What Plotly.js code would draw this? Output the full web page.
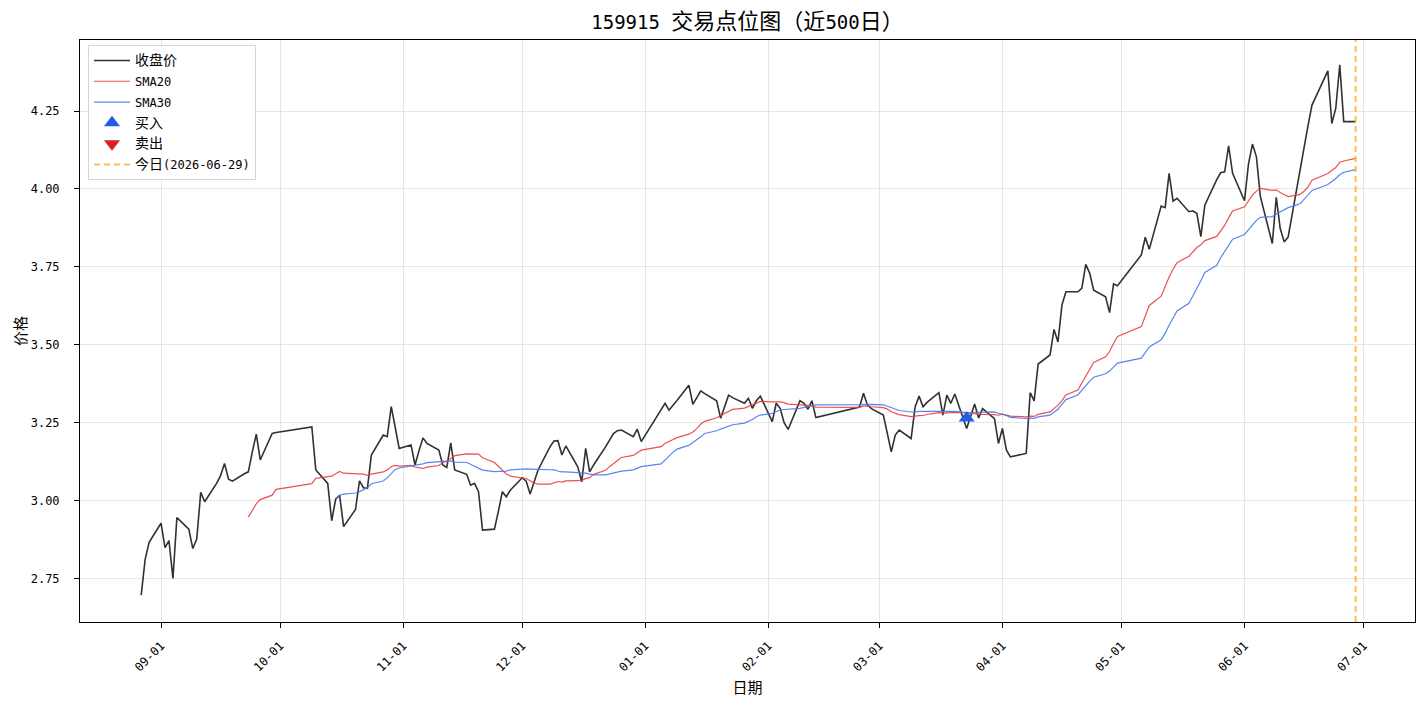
<!DOCTYPE html>
<html>
<head>
<meta charset="utf-8">
<script src="https://cdn.plot.ly/plotly-3.0.1.min.js"></script>
<style>
  html, body { margin: 0; padding: 0; background: #fff; }
  #chart { width: 1427px; height: 706px; }
</style>
</head>
<body>
<div id="chart"></div>
<script>
// 159915 daily closes, one array per month (A-share trading days)
const closeAug = [2.696, 2.811, 2.866];
const closeSep = [2.927, 2.849, 2.871, 2.750, 2.945, 2.908, 2.846, 2.876, 3.026, 2.996, 3.055,
                  3.080, 3.119, 3.068, 3.062, 3.086, 3.092, 3.156, 3.213, 3.130, 3.215, 3.218];
const closeOct = [3.236, 3.098, 3.055, 2.935, 3.004, 3.017, 2.916, 2.971, 3.063, 3.041, 3.039,
                  3.146, 3.210, 3.205, 3.301, 3.235, 3.167];
const closeNov = [3.178, 3.114, 3.160, 3.201, 3.183, 3.162, 3.114, 3.106, 3.185, 3.098, 3.084,
                  3.049, 3.055, 3.028, 2.905, 2.908, 2.965, 3.028, 3.012, 3.033];
const closeDec = [3.073, 3.062, 3.021, 3.060, 3.098, 3.172, 3.191, 3.192, 3.146, 3.175, 3.108,
                  3.060, 3.167, 3.092, 3.114, 3.172, 3.195, 3.215, 3.224, 3.226, 3.205, 3.229, 3.189];
const closeJan = [3.290, 3.312, 3.290, 3.304, 3.321, 3.370, 3.309, 3.330, 3.352, 3.343, 3.320,
                  3.264, 3.300, 3.338, 3.330, 3.312, 3.328, 3.296, 3.320, 3.335];
const closeFeb = [3.253, 3.312, 3.296, 3.250, 3.228, 3.320, 3.312, 3.293, 3.320, 3.266, 3.300,
                  3.344, 3.306, 3.295];
const closeMar = [3.274, 3.220, 3.156, 3.210, 3.226, 3.199, 3.300, 3.335, 3.301, 3.315, 3.346,
                  3.274, 3.338, 3.312, 3.342, 3.231, 3.270, 3.310, 3.265, 3.295, 3.263, 3.183];
const closeApr = [3.231, 3.162, 3.140, 3.151, 3.346, 3.320, 3.438, 3.467, 3.549, 3.509, 3.627,
                  3.670, 3.670, 3.681, 3.758, 3.729, 3.675, 3.654, 3.603, 3.695, 3.689];
const closeMay = [3.788, 3.845, 3.806, 3.945, 3.940, 4.050, 3.961, 3.970, 3.927, 3.930, 3.921,
                  3.847, 3.948, 4.030, 4.052, 4.055, 4.138, 4.050];
const closeJun = [3.962, 4.080, 4.144, 4.103, 3.975, 3.825, 3.973, 3.873, 3.830, 3.846, 4.065,
                  4.134, 4.203, 4.269, 4.379, 4.210, 4.259, 4.398, 4.216, 4.216];

// Exchange closures inside the window
const holidays = [
  '2025-10-01', '2025-10-02', '2025-10-03', '2025-10-06', '2025-10-07', '2025-10-08',
  '2026-01-01', '2026-01-02',
  '2026-02-16', '2026-02-17', '2026-02-18', '2026-02-19', '2026-02-20', '2026-02-23',
  '2026-04-06',
  '2026-05-01', '2026-05-04', '2026-05-05',
  '2026-06-19'
];
const firstDay = '2025-08-27';
const lastDay = '2026-06-29';

// Trade signals
const buyDates = ['2026-03-23'];
const buyPrices = [3.265];
const sellDates = [];
const sellPrices = [];

const today = '2026-06-29';

// Month ticks on the date axis
const tickDates = ['2025-09-01', '2025-10-01', '2025-11-01', '2025-12-01', '2026-01-01', '2026-02-01',
                   '2026-03-01', '2026-04-01', '2026-05-01', '2026-06-01', '2026-07-01'];
const tickLabels = ['09-01', '10-01', '11-01', '12-01', '01-01', '02-01',
                    '03-01', '04-01', '05-01', '06-01', '07-01'];
const priceTicks = [2.75, 3.00, 3.25, 3.50, 3.75, 4.00, 4.25];

// ---- build the trading calendar ----
function iso(d) {
  const m = String(d.getUTCMonth() + 1).padStart(2, '0');
  const day = String(d.getUTCDate()).padStart(2, '0');
  return d.getUTCFullYear() + '-' + m + '-' + day;
}
const closed = new Set(holidays);
const dates = [];
for (let d = new Date(firstDay + 'T00:00:00Z'); iso(d) <= lastDay; d.setUTCDate(d.getUTCDate() + 1)) {
  const wd = d.getUTCDay();
  if (wd !== 0 && wd !== 6 && !closed.has(iso(d))) dates.push(iso(d));
}
const close = [].concat(closeAug, closeSep, closeOct, closeNov, closeDec, closeJan,
                        closeFeb, closeMar, closeApr, closeMay, closeJun);

function sma(values, n) {
  return values.map((_, i) => {
    if (i < n - 1) return null;
    let s = 0;
    for (let k = i - n + 1; k <= i; k++) s += values[k];
    return s / n;
  });
}
const sma20 = sma(close, 20);
const sma30 = sma(close, 30);

// Latin text is set in a monospaced face; Chinese runs get a larger size so the
// full-width glyphs are twice the width of the half-width ones.
const MONO = '"DejaVu Sans Mono", "Noto Sans CJK SC", monospace';
const CJK = '"Noto Sans CJK SC", sans-serif';
function mixed(text, cjkSize) {
  return text.replace(/[\u3000-\u9fff\uff00-\uffef]+/g,
    run => '<span style="font-family:Noto Sans CJK SC;font-size:' + cjkSize + 'px">' + run + '</span>');
}

const yRange = [2.610, 4.478];

const traces = [
  { type: 'scatter', mode: 'lines', x: dates, y: close, name: mixed('收盘价', 14), legendgroup: 'c',
    line: { color: 'rgba(20,20,20,0.88)', width: 1.6 } },
  { type: 'scatter', mode: 'lines', x: dates, y: sma20, name: 'SMA20', legendgroup: 's20',
    line: { color: 'rgba(232,62,62,0.9)', width: 1.2 } },
  { type: 'scatter', mode: 'lines', x: dates, y: sma30, name: 'SMA30', legendgroup: 's30',
    line: { color: 'rgba(70,120,240,0.9)', width: 1.2 } },
  { type: 'scatter', mode: 'markers', x: buyDates, y: buyPrices, name: mixed('买入', 14), legendgroup: 'b',
    marker: { symbol: 'triangle-up', size: 14, color: '#1f5fe6' } },
  { type: 'scatter', mode: 'markers', legendgroup: 's',
    x: sellDates.length ? sellDates : [null], y: sellPrices.length ? sellPrices : [null],
    name: mixed('卖出', 14),
    marker: { symbol: 'triangle-down', size: 14, color: '#dc2020' } },
  { type: 'scatter', mode: 'lines', x: [today, today], y: yRange, legendgroup: 't',
    name: mixed('今日(' + today + ')', 14),
    line: { color: 'rgba(255,165,0,0.72)', width: 2, dash: '6px,4px' } }
];

const layout = {
  width: 1427, height: 706,
  margin: { l: 80, r: 12, t: 40, b: 84 },
  paper_bgcolor: '#fff', plot_bgcolor: '#fff',
  font: { family: MONO, size: 12, color: '#000' },
  title: { text: mixed('159915 交易点位图（近500日）', 22), x: 0.5, xref: 'paper',
           y: 1 - 22 / 706, yref: 'container', yanchor: 'middle',
           font: { family: MONO, size: 19, color: '#000' } },
  showlegend: true,
  legend: {
    x: 0.006, y: 0.9915, xanchor: 'left', yanchor: 'top',
    bgcolor: 'rgba(255,255,255,0.85)', bordercolor: '#d6d6d6', borderwidth: 1,
    font: { family: MONO, size: 12, color: '#000' },
    tracegroupgap: 1.8, itemwidth: 36
  },
  xaxis: {
    type: 'date', range: ['2025-08-11 14:00', '2026-07-13 23:00'],
    tickmode: 'array', tickvals: tickDates, ticktext: tickLabels, tickangle: -45,
    ticks: 'outside', ticklen: 5, tickcolor: '#000', tickwidth: 1, ticklabelstandoff: 6,
    showline: true, mirror: true, linecolor: '#000', linewidth: 1,
    showgrid: true, gridcolor: 'rgba(176,176,176,0.3)', gridwidth: 1,
    zeroline: false, automargin: false,
    tickfont: { family: MONO, size: 12 },
    title: { text: '日期', standoff: 9, font: { family: CJK, size: 15 } }
  },
  yaxis: {
    range: yRange,
    tickmode: 'array', tickvals: priceTicks, ticktext: priceTicks.map(v => v.toFixed(2)),
    ticks: 'outside', ticklen: 5, tickcolor: '#000', tickwidth: 1, ticklabelstandoff: 12,
    showline: true, mirror: true, linecolor: '#000', linewidth: 1,
    showgrid: true, gridcolor: 'rgba(176,176,176,0.3)', gridwidth: 1,
    zeroline: false, automargin: false,
    tickfont: { family: MONO, size: 12 },
    title: { text: '价格', standoff: 0, font: { family: CJK, size: 15 } }
  }
};

Plotly.newPlot('chart', traces, layout, { staticPlot: true, displayModeBar: false });
</script>
</body>
</html>
